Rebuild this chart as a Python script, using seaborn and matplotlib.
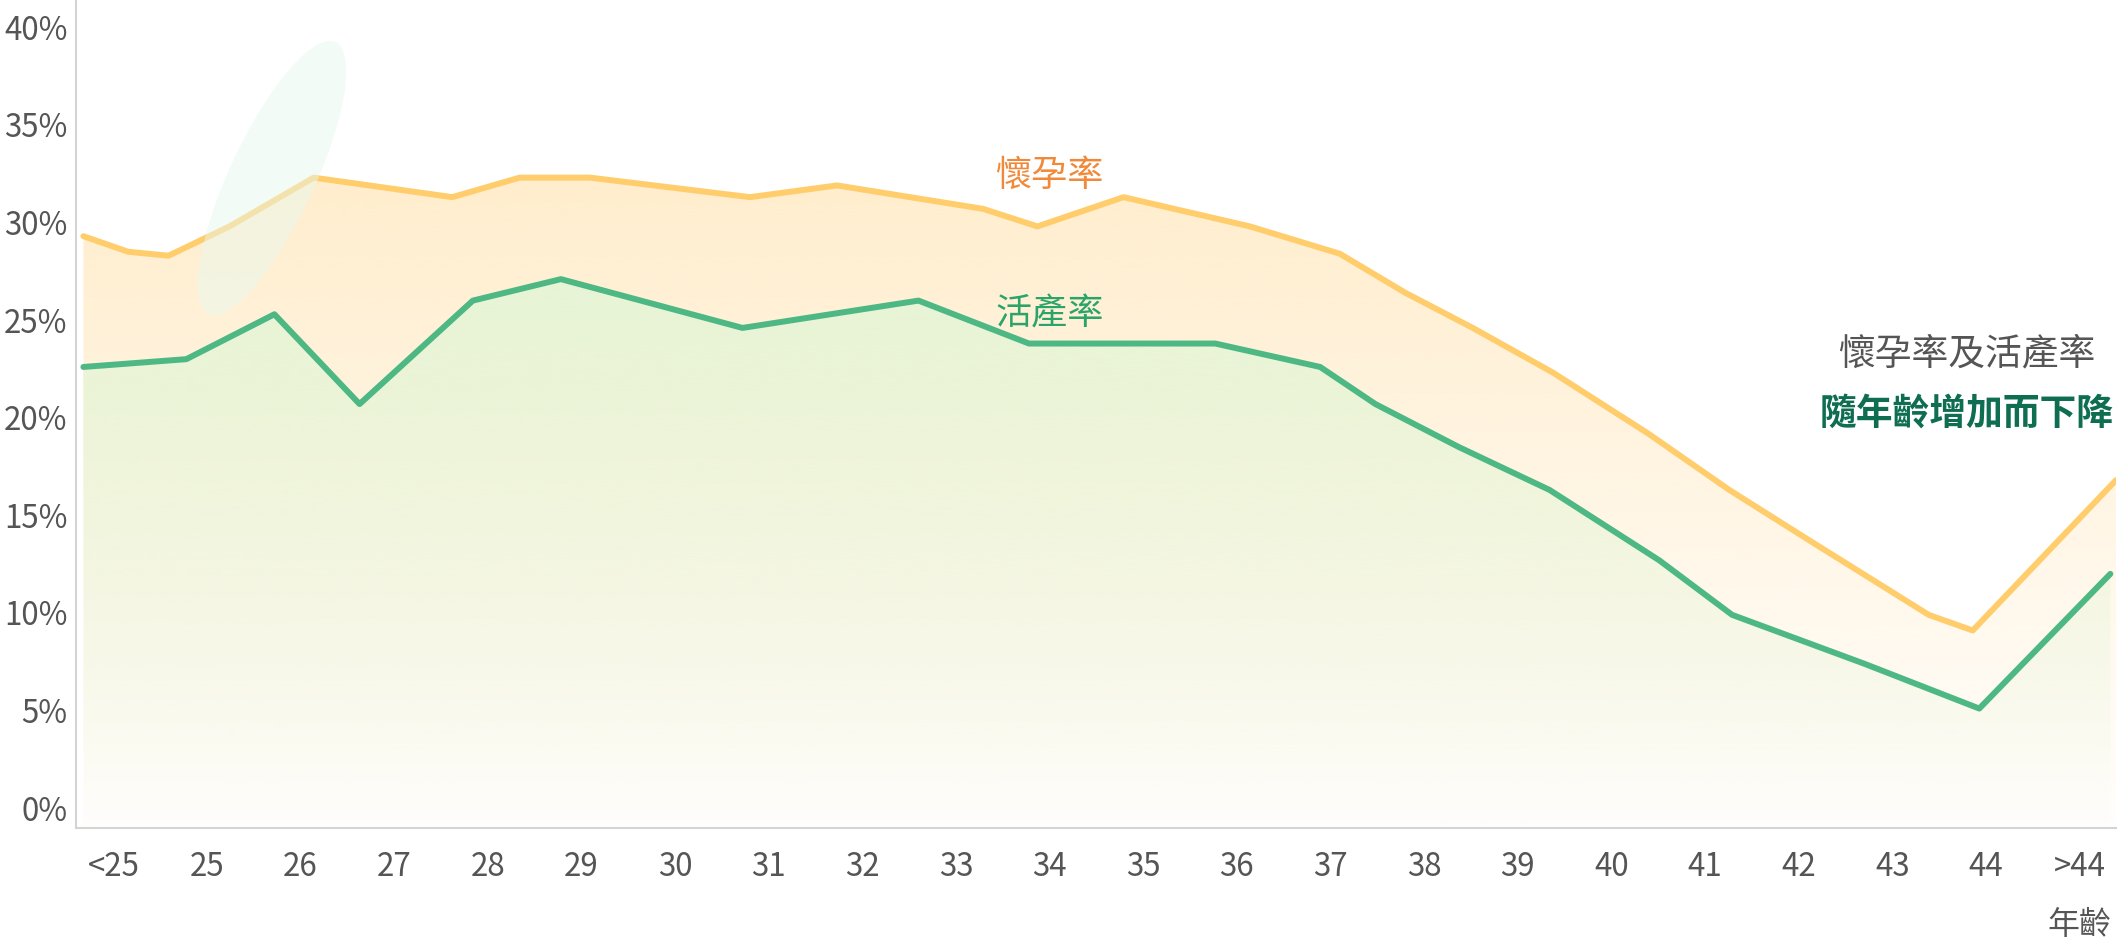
import numpy as np
import matplotlib
matplotlib.use("Agg")
import matplotlib.pyplot as plt
import matplotlib.colors as mcolors
from matplotlib.patches import PathPatch, Ellipse
import seaborn as sns

# ----- data -----
age_labels = ["<25"] + [str(a) for a in range(25, 45)] + [">44"]

# x positions are in age-slot units (0 = "<25", 21 = ">44")
preg_x = [-0.32, 0.16, 0.59, 1.24, 2.14, 3.62, 4.34, 5.09, 6.80, 7.73, 9.29,
          9.87, 10.79, 12.14, 13.10, 13.80, 14.52, 15.38, 16.39, 17.26, 18.12,
          19.39, 19.86, 21.39]
preg_rate = [29.3, 28.5, 28.3, 29.8, 32.3, 31.3, 32.3, 32.3, 31.3, 31.9, 30.7,
             29.8, 31.3, 29.8, 28.4, 26.4, 24.6, 22.3, 19.2, 16.3, 13.7,
             9.9, 9.1, 16.8]

live_x = [-0.32, 0.78, 1.72, 2.63, 3.84, 4.78, 6.72, 7.66, 8.60, 9.78, 11.77,
          12.89, 13.48, 14.37, 15.34, 16.51, 17.29, 18.70, 19.93, 21.33]
live_rate = [22.6, 23.0, 25.3, 20.7, 26.0, 27.1, 24.6, 25.3, 26.0, 23.8, 23.8,
             22.6, 20.7, 18.5, 16.3, 12.7, 9.9, 7.4, 5.1, 12.0]

y_ticks = [0, 5, 10, 15, 20, 25, 30, 35, 40]

ORANGE_LINE = "#FFCD6B"
GREEN_LINE = "#4DB883"
TEXT_GRAY = "#555555"

sns.set_theme(style="white")
plt.rcParams["font.family"] = ["Noto Sans CJK TC", "DejaVu Sans"]

fig = plt.figure(figsize=(21.2, 9.5), dpi=100)
ax = fig.add_axes([0.0358, 0.128, 0.9623, 0.872])

XMIN, XMAX = -0.40, 21.39
YMIN, YMAX = -1.04, 41.4


def gradient_fill(x, y, color, a_top, a_bot, y_top, z):
    poly = ax.fill_between(x, y, YMIN, color="none", lw=0)
    patch = PathPatch(poly.get_paths()[0], facecolor="none", edgecolor="none",
                      transform=ax.transData)
    ax.add_patch(patch)
    grad = np.zeros((256, 1, 4))
    grad[..., :3] = mcolors.to_rgb(color)
    grad[..., 3] = np.linspace(a_bot, a_top, 256)[:, None]
    im = ax.imshow(grad, extent=[XMIN, XMAX, YMIN, y_top], origin="lower",
                   aspect="auto", zorder=z, interpolation="bilinear")
    im.set_clip_path(patch)


gradient_fill(preg_x, preg_rate, "#FFEDCC", 1.0, 0.05, 33, 1)
gradient_fill(live_x, live_rate, "#E4F5D6", 0.9, 0.0, 27.5, 2)

# pale decorative blob top left
blob = Ellipse((2.72, 7.72), 3.0, 0.85, angle=65, facecolor="#E8F8EE",
               edgecolor="none", alpha=0.5, transform=fig.dpi_scale_trans,
               zorder=5)
ax.add_artist(blob)

sns.lineplot(x=preg_x, y=preg_rate, sort=False, ax=ax, color=ORANGE_LINE,
             linewidth=4.3, zorder=4)
sns.lineplot(x=live_x, y=live_rate, sort=False, ax=ax, color=GREEN_LINE,
             linewidth=4.3, zorder=4)

ax.set_xlim(XMIN, XMAX)
ax.set_ylim(YMIN, YMAX)
ax.set_xticks(range(len(age_labels)), labels=age_labels)
ax.set_yticks(y_ticks, labels=[f"{v}%" for v in y_ticks])
ax.tick_params(axis="both", length=0, labelsize=22.5, labelcolor=TEXT_GRAY)
ax.tick_params(axis="x", pad=16)
ax.tick_params(axis="y", pad=6)
ax.set_xlabel("")
ax.set_ylabel("")

for side in ["top", "right"]:
    ax.spines[side].set_visible(False)
for side in ["left", "bottom"]:
    ax.spines[side].set_color("#D4D4D4")
    ax.spines[side].set_linewidth(1.5)

# labels
ax.text(10.0, 32.4, "懷孕率", color="#F08A3A", fontsize=26, fontweight="medium",
        ha="center", va="center", zorder=6)
ax.text(10.0, 25.3, "活產率", color="#2BA46A", fontsize=26, fontweight="medium",
        ha="center", va="center", zorder=6)
ax.text(19.8, 23.25, "懷孕率及活產率", color=TEXT_GRAY, fontsize=26.5,
        fontweight="medium", ha="center", va="center", zorder=6)
ax.text(19.8, 20.2, "隨年齡增加而下降", color="#0F6E52", fontsize=26.5,
        fontweight="bold", ha="center", va="center", zorder=6)
ax.text(21.0, -6.0, "年齡", color=TEXT_GRAY, fontsize=23, ha="center",
        va="center", clip_on=False)

fig.savefig("out.png", dpi=100)
